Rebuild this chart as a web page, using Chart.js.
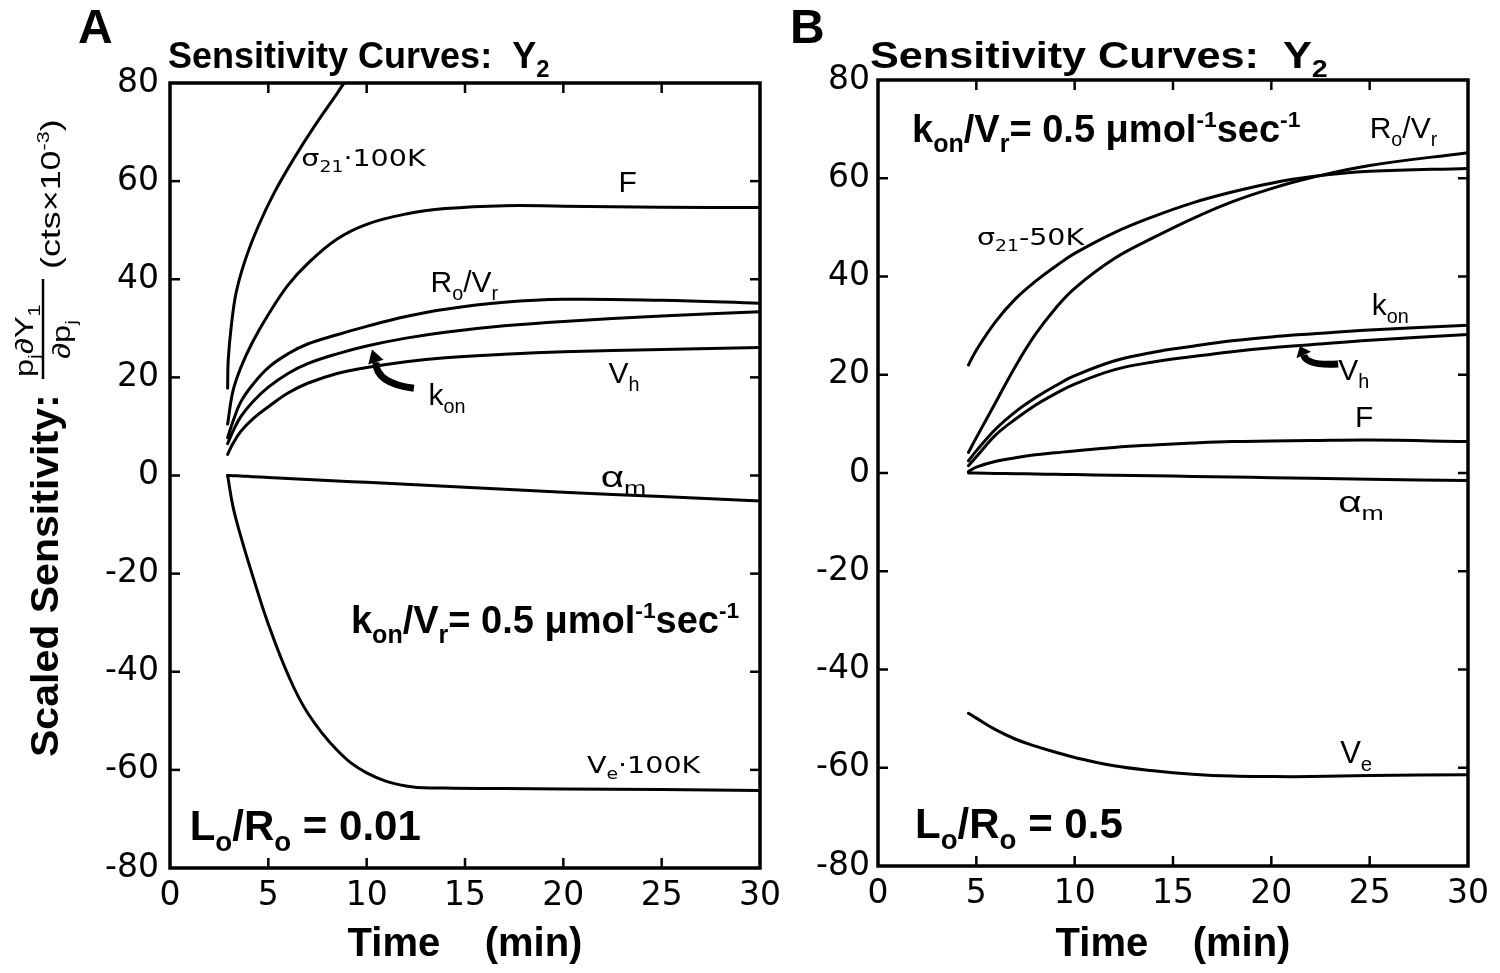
<!DOCTYPE html>
<html><head><meta charset="utf-8">
<script src="https://cdn.jsdelivr.net/npm/chart.js@4.4.0/dist/chart.umd.min.js"></script>
<style>
html,body{margin:0;padding:0;background:#fff;width:1500px;height:973px;overflow:hidden}
#wa{position:absolute;left:0;top:0;width:790px;height:973px}
#wb{position:absolute;left:790px;top:0;width:710px;height:973px}
</style></head><body>
<div id="wa"><canvas id="ca"></canvas></div>
<div id="wb"><canvas id="cb"></canvas></div>
<script>
// ---------- data ----------
const xTicks = [0, 5, 10, 15, 20, 25, 30];
const yTicks = [80, 60, 40, 20, 0, -20, -40, -60, -80];

// Panel A  (Lo/Ro = 0.01)
const timeA      = [2.93, 3.2, 3.6, 4.2, 5, 6, 7, 8.5, 10, 12, 14, 17, 20, 25, 30];
const sigmaTimeA = [2.93, 2.96, 3.12, 3.37, 3.84, 4.5, 5.31, 6.27, 7.33, 8.5, 8.85, 9.6];
const sigmaA     = [17.8, 23.5, 30.6, 37.4, 44.1, 50.9, 57.7, 64.4, 71.1, 77.9, 80, 84];
const fA     = [10.5, 17.2, 22, 27.2, 32.8, 38.8, 43.2, 48.2, 51.2, 53.3, 54.4, 55, 54.9, 54.7, 54.6];
const roVrA  = [7.7, 11, 15, 18.5, 22, 24.8, 26.8, 28.7, 30.4, 32.4, 33.9, 35.3, 35.9, 35.7, 35.1];
const konA   = [6.5, 9, 12, 15, 18, 20.8, 22.8, 24.8, 26.4, 28, 29.2, 30.5, 31.4, 32.5, 33.4];
const vhA    = [4.3, 6.5, 9, 11.5, 14, 16.8, 18.8, 20.8, 22, 23.2, 24, 24.7, 25.2, 25.7, 26.1];
const alphaA = [0, -0.05, -0.1, -0.25, -0.4, -0.6, -0.8, -1.1, -1.4, -1.8, -2.2, -2.8, -3.4, -4.3, -5.2];
const veA    = [0, -6.3, -12.4, -20.4, -30.3, -40.6, -48.4, -56, -60.6, -63.3, -63.7, -63.8, -63.9, -64, -64.2];

// Panel B  (Lo/Ro = 0.5)
const timeB  = [4.6, 5, 6, 7, 8, 9, 10, 12, 14, 16, 18, 20, 22, 25, 30];
const sigmaB = [22, 25, 30.9, 35.5, 39, 42, 44.7, 48.9, 52.2, 55, 57.2, 59, 60.3, 61.4, 62];
const roVrB  = [4.2, 7.2, 14.5, 21.8, 28.2, 33.4, 37.6, 43.6, 47.9, 51.8, 55.2, 57.9, 60.1, 62.6, 65.2];
const konB   = [2.5, 4.5, 9, 12.5, 15.3, 17.7, 19.8, 22.8, 24.6, 25.8, 26.9, 27.7, 28.3, 29.1, 30.1];
const vhB    = [1.5, 3.3, 7.8, 11, 13.8, 16.1, 18.1, 21, 22.6, 23.7, 24.7, 25.5, 26.1, 27, 28.2];
const fB     = [0.3, 1.2, 2.4, 3.1, 3.7, 4.1, 4.5, 5.2, 5.7, 6.1, 6.4, 6.5, 6.6, 6.7, 6.4];
const alphaB = [0, -0.02, -0.08, -0.15, -0.2, -0.26, -0.32, -0.45, -0.57, -0.7, -0.82, -0.95, -1.07, -1.25, -1.55];
const veB    = [-48.9, -49.9, -52.3, -54.2, -55.6, -56.8, -57.9, -59.6, -60.6, -61.3, -61.7, -61.8, -61.8, -61.6, -61.4];

// ---------- text annotations (positions in data units) ----------
const LS = '"Liberation Sans", Arial, sans-serif';
const DJ = '"DejaVu Sans", sans-serif';
const annA = [
  {s: 'σ_{21}·100K', t: 6.68, v: 63, size: 23, fam: DJ, sx: 1.24},
  {s: 'F', t: 22.8, v: 57.7, size: 30},
  {s: 'R_{o}/V_{r}', t: 13.25, v: 37.4, size: 30},
  {s: 'V_{h}', t: 22.3, v: 18.8, size: 30},
  {s: 'k_{on}', t: 13.15, v: 14.4, size: 30},
  {s: 'α_{m}', t: 21.9, v: -2.4, size: 30, sx: 1.35},
  {s: 'k_{on}/V_{r}= 0.5 μmol^{-1}sec^{-1}', t: 9.2, v: -32.2, size: 38, weight: 'bold'},
  {s: 'V_{e}·100K', t: 21.2, v: -60.7, size: 23, fam: DJ, sx: 1.24},
  {s: 'L_{o}/R_{o} = 0.01', t: 1.0, v: -74.3, size: 42, weight: 'bold'}
];
const annB = [
  {s: 'k_{on}/V_{r}= 0.5 μmol^{-1}sec^{-1}', t: 1.73, v: 67.4, size: 38, weight: 'bold'},
  {s: 'R_{o}/V_{r}', t: 25.0, v: 68.2, size: 30},
  {s: 'σ_{21}-50K', t: 5.03, v: 46.4, size: 23, fam: DJ, sx: 1.24},
  {s: 'k_{on}', t: 25.1, v: 32.2, size: 30},
  {s: 'V_{h}', t: 23.4, v: 18.9, size: 30},
  {s: 'F', t: 24.25, v: 9.4, size: 30},
  {s: 'α_{m}', t: 23.4, v: -7.9, size: 30, sx: 1.35},
  {s: 'V_{e}', t: 23.5, v: -59, size: 31},
  {s: 'L_{o}/R_{o} = 0.5', t: 1.88, v: -74.3, size: 42, weight: 'bold'}
];
const arrowA = {from: [12.4, 17.8], ctrl: [10.47, 18.8], end: [10.47, 23.1], tip: [10.27, 25.7]};
const arrowB = {from: [23.4, 22.2], ctrl: [21.8, 21.8], end: [21.65, 24.0], tip: [21.45, 25.8]};

// ---------- helpers ----------
function parseRich(str) {
  const out = []; const re = /([_^])\{([^}]*)\}|([^_^]+)/g; let m;
  while ((m = re.exec(str))) {
    if (m[3]) out.push({t: m[3]});
    else out.push({t: m[2], sub: m[1] === '_', sup: m[1] === '^'});
  }
  return out;
}
function drawRich(ctx, x, y, str, o) {
  ctx.save();
  ctx.translate(x, y);
  if (o.rot) ctx.rotate(o.rot);
  if (o.sx) ctx.scale(o.sx, 1);
  ctx.fillStyle = '#000';
  ctx.textBaseline = 'alphabetic';
  ctx.textAlign = 'left';
  let cx = 0;
  for (const s of parseRich(str)) {
    let size = o.size, dy = 0;
    if (s.sub) { size = o.size * 0.66; dy = o.size * 0.26; }
    if (s.sup) { size = o.size * 0.6; dy = -o.size * 0.4; }
    ctx.font = (o.weight || 'normal') + ' ' + size + 'px ' + (o.fam || LS);
    ctx.fillText(s.t, cx, dy);
    cx += ctx.measureText(s.t).width;
  }
  ctx.restore();
  return cx * (o.sx || 1);
}
function pts(ts, vs) { return ts.map((t, i) => ({x: t, y: vs[i]})); }
function ds(ts, vs, label) {
  return {label, data: pts(ts, vs), borderColor: '#000', borderWidth: 3, pointRadius: 0,
          fill: false, tension: 0.4, borderCapStyle: 'round', borderJoinStyle: 'round'};
}

function decoPlugin(cfg) {
  return {
    id: 'deco' + cfg.letter,
    afterDraw(chart) {
      const ctx = chart.ctx, a = chart.chartArea, xs = chart.scales.x, ys = chart.scales.y;
      ctx.save();
      // frame
      ctx.strokeStyle = '#000'; ctx.lineWidth = 3.5;
      ctx.strokeRect(a.left, a.top, a.right - a.left, a.bottom - a.top);
      // inward ticks
      ctx.lineWidth = 2.5;
      const tl = 10;
      xTicks.slice(1, -1).forEach(v => {
        const px = xs.getPixelForValue(v);
        ctx.beginPath(); ctx.moveTo(px, a.top); ctx.lineTo(px, a.top + tl); ctx.stroke();
        ctx.beginPath(); ctx.moveTo(px, a.bottom); ctx.lineTo(px, a.bottom - tl); ctx.stroke();
      });
      yTicks.slice(1, -1).forEach(v => {
        const py = ys.getPixelForValue(v);
        ctx.beginPath(); ctx.moveTo(a.left, py); ctx.lineTo(a.left + tl, py); ctx.stroke();
        ctx.beginPath(); ctx.moveTo(a.right, py); ctx.lineTo(a.right - tl, py); ctx.stroke();
      });
      // panel letter and title
      drawRich(ctx, cfg.letterX, 43, cfg.letter, {size: 48, weight: 'bold'});
      drawRich(ctx, a.left - 2 + cfg.titleDx, 68, 'Sensitivity Curves:  Y_{2}', cfg.titleFont);
      // annotations
      cfg.ann.forEach(n => {
        drawRich(ctx, xs.getPixelForValue(n.t), ys.getPixelForValue(n.v), n.s, n);
      });
      // arrow
      const P = p => [xs.getPixelForValue(p[0]), ys.getPixelForValue(p[1])];
      const f = P(cfg.arrow.from), c = P(cfg.arrow.ctrl), e = P(cfg.arrow.end), tp = P(cfg.arrow.tip);
      ctx.lineWidth = 7; ctx.lineCap = 'butt'; ctx.strokeStyle = '#000';
      ctx.beginPath(); ctx.moveTo(f[0], f[1]); ctx.quadraticCurveTo(c[0], c[1], e[0], e[1]); ctx.stroke();
      const dx = tp[0] - e[0], dy = tp[1] - e[1], L = Math.hypot(dx, dy) || 1;
      const nx = -dy / L, ny = dx / L, hw = 8;
      ctx.fillStyle = '#000';
      ctx.beginPath(); ctx.moveTo(tp[0], tp[1]);
      ctx.lineTo(e[0] + nx * hw, e[1] + ny * hw); ctx.lineTo(e[0] - nx * hw, e[1] - ny * hw);
      ctx.closePath(); ctx.fill();
      // y-axis title (panel A only)
      if (cfg.yTitle) {
        const R = -Math.PI / 2;
        drawRich(ctx, 58, 757, 'Scaled Sensitivity:', {size: 38, weight: 'bold', rot: R, sx: 1.08});
        ctx.save(); ctx.translate(58, 757); ctx.rotate(R);
        ctx.strokeStyle = '#000'; ctx.lineWidth = 2.5;
        ctx.beginPath(); ctx.moveTo(378, -15); ctx.lineTo(478, -15); ctx.stroke();
        ctx.restore();
        drawRich(ctx, 58 - 25, 757 - 380, 'p_{j}∂Y_{1}', {size: 25, rot: R, sx: 1.3});
        drawRich(ctx, 58 + 12, 757 - 398, '∂p_{j}', {size: 25, rot: R, sx: 1.3});
        drawRich(ctx, 60, 757 - 488, '(cts×10^{-3})', {size: 28, rot: R, sx: 1.28});
      }
      ctx.restore();
    }
  };
}

Chart.defaults.animation = false;
Chart.defaults.color = '#000';

function makeChart(id, datasets, cfg) {
  return new Chart(document.getElementById(id), {
    type: 'line',
    data: {datasets},
    options: {
      responsive: true, maintainAspectRatio: false, devicePixelRatio: 1,
      layout: {padding: {left: 0, right: cfg.padRight, top: cfg.padTop, bottom: 0}},
      plugins: {legend: {display: false}, tooltip: {enabled: false}},
      scales: {
        x: {
          type: 'linear', min: 0, max: 30, position: 'bottom',
          afterBuildTicks: s => { s.ticks = xTicks.map(v => ({value: v})); },
          afterFit: s => { s.height = cfg.xHeight; },
          grid: {display: false, drawTicks: false}, border: {display: false},
          ticks: {font: {family: DJ, size: 33}, color: '#000', padding: 9, maxRotation: 0, autoSkip: false},
          title: {display: true, text: 'Time    (min)', color: '#000',
                  font: {family: LS, size: 40, weight: 'bold'}, padding: {top: 0, bottom: 4}}
        },
        y: {
          type: 'linear', min: -80, max: 80, position: 'left',
          afterBuildTicks: s => { s.ticks = yTicks.map(v => ({value: v})); },
          afterFit: s => { s.width = cfg.yWidth; },
          grid: {display: false, drawTicks: false}, border: {display: false},
          ticks: {font: {family: DJ, size: 33}, color: '#000', padding: cfg.yPad, autoSkip: false}
        }
      }
    },
    plugins: [decoPlugin(cfg)]
  });
}

makeChart('ca', [
  ds(sigmaTimeA, sigmaA, 'σ21·100K'),
  ds(timeA, fA, 'F'),
  ds(timeA, roVrA, 'Ro/Vr'),
  ds(timeA, konA, 'kon'),
  ds(timeA, vhA, 'Vh'),
  ds(timeA, alphaA, 'αm'),
  ds(timeA, veA, 'Ve·100K')
], {letter: 'A', letterX: 78, titleDx: 0, titleFont: {size: 36, weight: 'bold'},
    ann: annA, arrow: arrowA, yTitle: true,
    padRight: 27, padTop: 83, xHeight: 105, yWidth: 170, yPad: 11});

makeChart('cb', [
  ds(timeB, sigmaB, 'σ21-50K'),
  ds(timeB, roVrB, 'Ro/Vr'),
  ds(timeB, konB, 'kon'),
  ds(timeB, vhB, 'Vh'),
  ds(timeB, fB, 'F'),
  ds(timeB, alphaB, 'αm'),
  ds(timeB, veB, 'Ve')
], {letter: 'B', letterX: 0, titleDx: -6, titleFont: {size: 36, weight: 'bold', sx: 1.2},
    ann: annB, arrow: arrowB, yTitle: false,
    padRight: 32, padTop: 80, xHeight: 107, yWidth: 88, yPad: 8});
</script>
</body></html>
